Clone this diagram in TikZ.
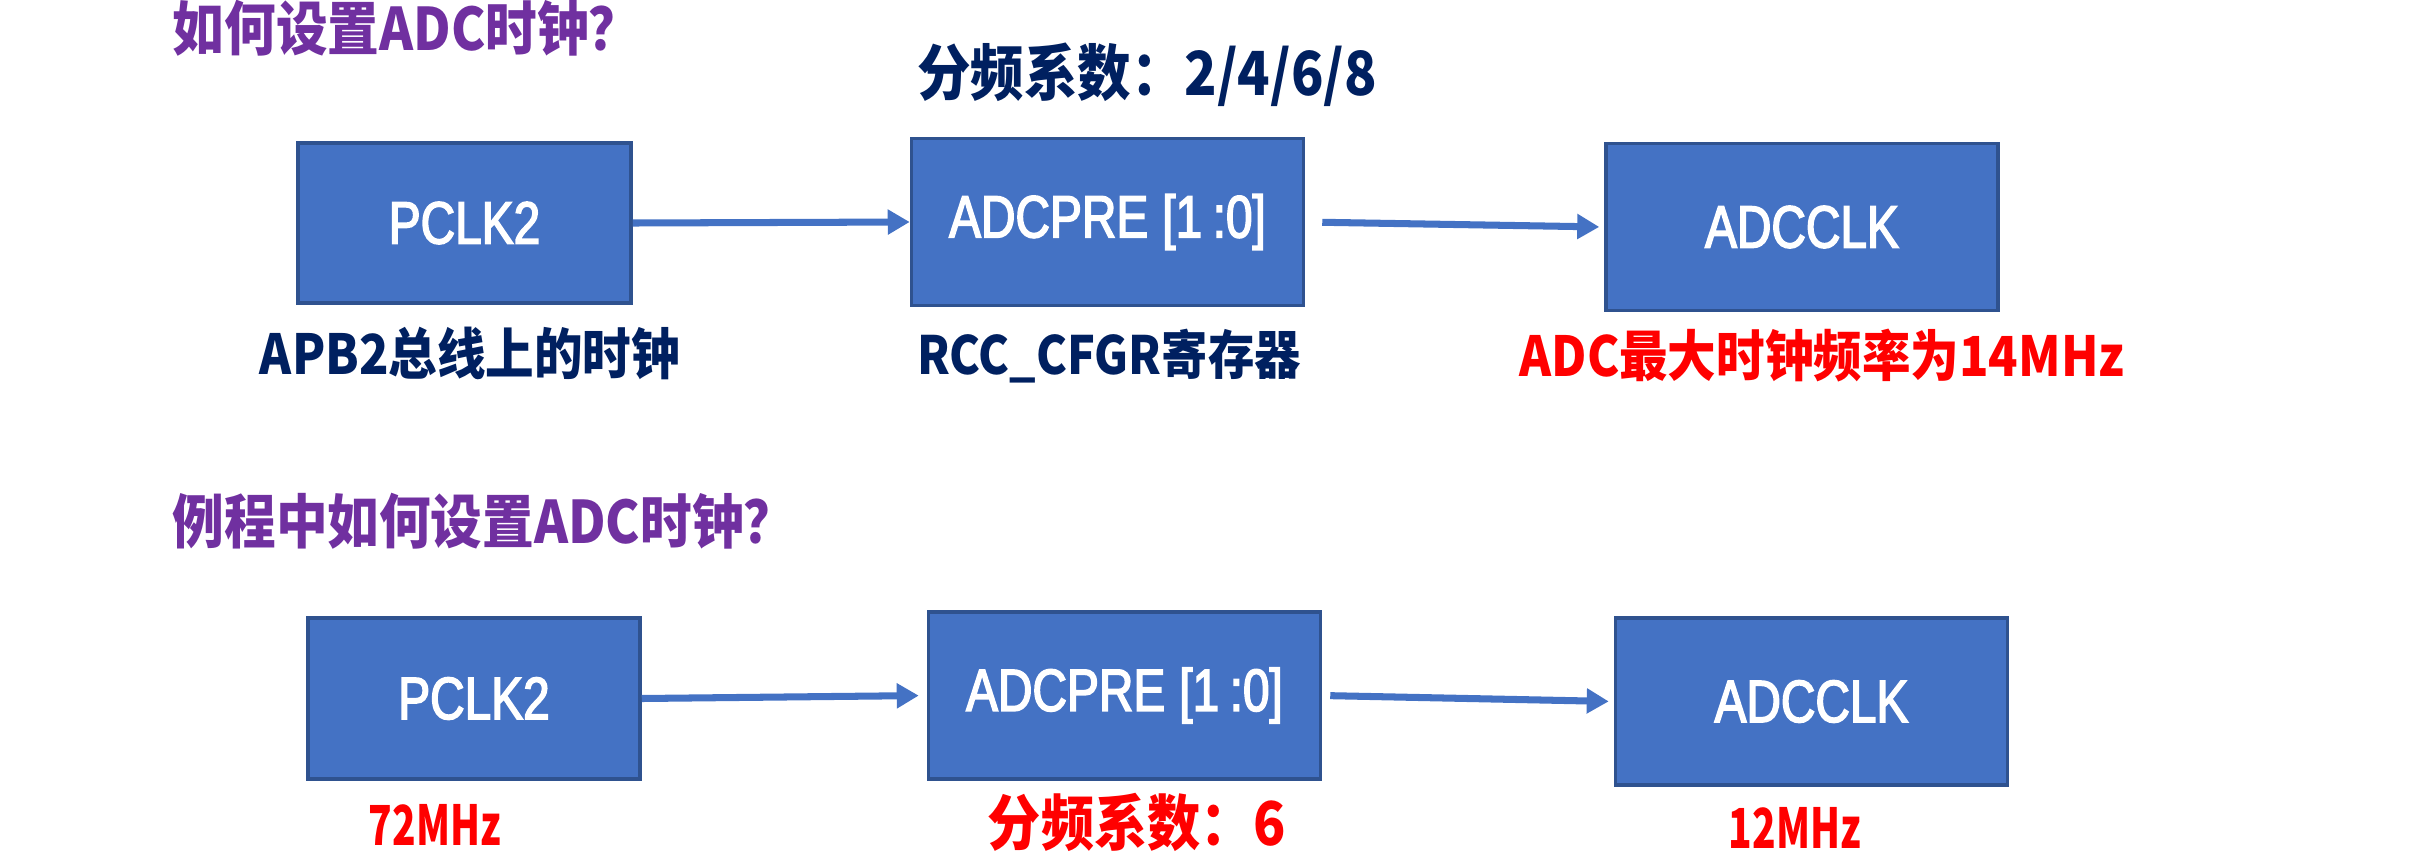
\documentclass[tikz,border=0pt]{standalone}
\usepackage{fontspec}
\setmainfont{Noto Sans CJK SC}[FakeStretch=0.88]
\newfontfamily\boxfont{Liberation Sans}[FakeStretch=0.8,FakeBold=2.5]
\usetikzlibrary{arrows.meta,positioning}
\definecolor{boxblue}{HTML}{4472C4}
\definecolor{boxedge}{HTML}{2F528F}
\definecolor{titlepurple}{HTML}{7030A0}
\definecolor{labelnavy}{HTML}{002060}
\definecolor{notered}{HTML}{FF0000}
\tikzset{
    block/.style={
        rectangle,
        draw=boxedge,
        line width=1pt,
        fill=boxblue,
        text=white,
        font=\boxfont\fontsize{17}{20}\selectfont,
        minimum width=3.92cm,
        minimum height=1.67cm,
        inner sep=0pt,
    },
    title/.style={
        anchor=west,
        text=titlepurple,
        font=\bfseries\fontsize{16.7}{19}\selectfont,
        inner sep=0pt,
    },
    label/.style={
        text=labelnavy,
        font=\bfseries\fontsize{15.7}{18}\selectfont,
        inner sep=0pt,
    },
    note/.style={
        text=notered,
        font=\bfseries\fontsize{15.7}{18}\selectfont,
        inner sep=0pt,
    },
    flow/.style={
        ->,
        draw=boxblue,
        line width=2pt,
    },
}

\begin{document}
\begin{tikzpicture}[>={Triangle[length=2.2mm,width=2.4mm]}]
    \useasboundingbox (0,0) rectangle (24.35,-8.54);
    % how the ADC clock is set
    \node [title] (titleA) at (1.72,-0.28) {如何设置ADC时钟？};
    \node [block,minimum width=3.33cm,minimum height=1.60cm] (pclkA) at (4.645,-2.23) {PCLK2};
    \node [block] (preA) at (11.075,-2.22) {ADCPRE\kern4pt[1\kern3pt:0]};
    \node [block] (clkA) at (18.02,-2.27) {ADCCLK};
    \node [label,font=\bfseries\fontsize{17.3}{20}\selectfont] (divA) at (11.47,-0.75) {分频系数：2/4/6/8};
    \node [label] (apb) at (4.70,-3.53) {APB2总线上的时钟};
    \node [label,font=\bfseries\fontsize{15}{18}\selectfont] (rcc) at (11.09,-3.56) {RCC\_CFGR寄存器};
    \node [note] (maxclk) at (18.22,-3.56) {ADC最大时钟频率为14MHz};
    \draw [flow] (pclkA.east) -- (preA.west);
    \draw [flow,shorten <=0.17cm,shorten >=0.05cm] (preA.east) -- (clkA.west);
    % the example program
    \node [title] (titleB) at (1.72,-5.21) {例程中如何设置ADC时钟？};
    \node [block,minimum width=3.32cm,minimum height=1.61cm] (pclkB) at (4.74,-6.985) {PCLK2};
    \node [block] (preB) at (11.245,-6.955) {ADCPRE\kern4pt[1\kern3pt:0]};
    \node [block] (clkB) at (18.115,-7.015) {ADCCLK};
    \node [note] (inclk) at (4.35,-8.25) {\scalebox{0.8}[1]{72MHz}};
    \node [note,font=\bfseries\fontsize{17.2}{20}\selectfont] (divB) at (11.37,-8.22) {分频系数：6};
    \node [note] (outclk) at (17.95,-8.28) {\scalebox{0.8}[1]{12MHz}};
    \draw [flow,shorten >=0.08cm] (pclkB.east) -- (preB.west);
    \draw [flow,shorten <=0.08cm,shorten >=0.05cm] (preB.east) -- (clkB.west);
\end{tikzpicture}
\end{document}
